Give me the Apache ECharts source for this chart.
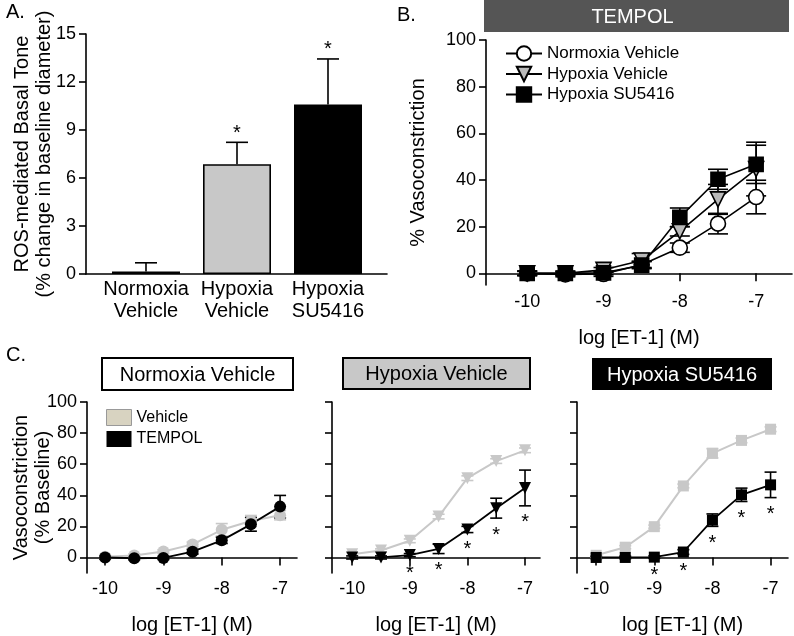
<!DOCTYPE html>
<html><head><meta charset="utf-8">
<script src="https://cdn.jsdelivr.net/npm/echarts@6/dist/echarts.min.js"></script>
<style>html,body{margin:0;padding:0;background:#fff}#c{width:794px;height:636px}</style>
</head><body><div id="c"></div>
<script>
// ---------- Panel A data ----------
const barCategories = ['Normoxia\nVehicle', 'Hypoxia\nVehicle', 'Hypoxia\nSU5416'];
const barValues = [0.15, 6.86, 10.6];
const barErrors = [0.55, 1.37, 2.84];
const barStars = [false, true, true];
const barColors = ['#ffffff', '#c8c8c8', '#000000'];
const barTicks = [0, 3, 6, 9, 12, 15];

// ---------- Panels B / C data ----------
const logET = [-10, -9.5, -9, -8.5, -8, -7.5, -7];
const logTicks = [-10, -9, -8, -7];
const pctTicks = [0, 20, 40, 60, 80, 100];

const normoxiaTempol = [0, -0.5, -0.3, 3.7, 11, 21.3, 32.7];
const normoxiaTempolErr = [1, 1, 1, 1.5, 2, 4.4, 7.2];
const normoxiaVehicle = [0.5, 1.3, 3.8, 8.4, 17.8, 23.5, 27.2];
const normoxiaVehicleErr = [1, 1, 1.2, 1.5, 4, 3.5, 3];

const hypoxiaTempol = [0, 0, 1.5, 5.5, 18, 31.7, 44.7];
const hypoxiaTempolErr = [1, 1, 1, 3, 2, 6.4, 11.5];
const hypoxiaVehicle = [2, 4.5, 10.7, 26.3, 51, 62, 68.9];
const hypoxiaVehicleErr = [1, 1, 1.2, 1.5, 1.5, 1.5, 1.5];
const hypoxiaStars = [0, 0, 1, 1, 1, 1, 1];

const suTempol = [0, 0, 0.2, 3.5, 24, 40.3, 46.7];
const suTempolErr = [0.8, 0.8, 0.8, 1.5, 4, 4.3, 8.2];
const suVehicle = [1.4, 6.6, 19.8, 46, 67, 75.3, 82.5];
const suVehicleErr = [1, 1, 1, 1.2, 3, 1.5, 1.5];
const suStars = [0, 0, 1, 1, 1, 1, 1];

const FONT = 'Liberation Sans, Arial, sans-serif';
const GREY = '#c8c8c8';

function errData(m, e) { return logET.map((x, i) => [x, m[i] - e[i], m[i] + e[i]]); }
function pts(m) { return logET.map((x, i) => [x, m[i]]); }

function errRender(capHalf, color, lw, upperOnly) {
  return function (params, api) {
    const x = api.value(0), lo = api.value(1), hi = api.value(2);
    const pT = api.coord([x, hi]), pB = api.coord([x, lo]);
    const st = { stroke: color, lineWidth: lw };
    const ch = [
      { type: 'line', shape: { x1: pT[0], y1: pT[1], x2: pB[0], y2: pB[1] }, style: st },
      { type: 'line', shape: { x1: pT[0] - capHalf, y1: pT[1], x2: pT[0] + capHalf, y2: pT[1] }, style: st }
    ];
    if (!upperOnly) ch.push({ type: 'line', shape: { x1: pB[0] - capHalf, y1: pB[1], x2: pB[0] + capHalf, y2: pB[1] }, style: st });
    return { type: 'group', children: ch };
  };
}
function starRender(offset) {
  return function (params, api) {
    const p = api.coord([api.value(0), api.value(1)]);
    return { type: 'text', x: p[0], y: p[1] + offset,
      style: { text: '*', fill: '#000', font: '20px ' + FONT, align: 'center', verticalAlign: 'middle' } };
  };
}

const grids = [
  { left: 86, width: 301, top: 34, height: 240 },          // 0 A frame
  { left: 100.5, width: 273, top: 34, height: 240 },       // 1 A bars
  { left: 486, width: 306, top: 40, height: 245 },         // 2 B
  { left: 87, width: 210, top: 402, height: 178.2 },       // 3 C left
  { left: 332, width: 208, top: 402, height: 178.2 },      // 4 C mid
  { left: 577, width: 211, top: 402, height: 178.2 }       // 5 C right
];

const axLine = { show: true, onZero: true, lineStyle: { color: '#000', width: 1.6 } };
const tickOut = (vals, len) => ({ show: true, length: len, inside: false, lineStyle: { color: '#000', width: 1.6 }, customValues: vals });
const lblStyle = { color: '#000', fontFamily: FONT, fontSize: 18 };

function logXAxis(gi, min, max, nameGap, margin) {
  return { gridIndex: gi, type: 'value', min: min, max: max,
    axisLine: axLine, axisTick: tickOut(logTicks, 8),
    axisLabel: Object.assign({ customValues: logTicks, margin: margin }, lblStyle),
    splitLine: { show: false },
    name: 'log [ET-1] (M)', nameLocation: 'middle', nameGap: nameGap,
    nameTextStyle: { color: '#000', fontFamily: FONT, fontSize: 20 } };
}
function pctYAxis(gi, min, showLabels, name, nameGap) {
  const a = { gridIndex: gi, type: 'value', min: min, max: 100,
    axisLine: { show: true, onZero: false, lineStyle: { color: '#000', width: 1.6 } },
    axisTick: tickOut(pctTicks, 7),
    axisLabel: Object.assign({ show: showLabels, customValues: pctTicks, margin: 10 }, lblStyle),
    splitLine: { show: false } };
  if (name) {
    a.name = name; a.nameLocation = 'middle'; a.nameGap = nameGap; a.nameRotate = 90; a.nameMoveOverlap = false;
    a.nameTextStyle = { color: '#000', fontFamily: FONT, fontSize: 20, lineHeight: 22 };
  }
  return a;
}

const xAxes = [
  { gridIndex: 0, type: 'value', min: 0, max: 1, axisLine: { show: true, lineStyle: { color: '#000', width: 1.6 } },
    axisTick: { show: false }, axisLabel: { show: false }, splitLine: { show: false } },
  { gridIndex: 1, type: 'category', data: barCategories, axisLine: { show: false }, axisTick: { show: false },
    axisLabel: { color: '#000', fontFamily: FONT, fontSize: 20, lineHeight: 22, margin: 4, interval: 0 } },
  logXAxis(2, -10.54, -6.53, 43, 8),
  logXAxis(3, -10.31, -6.71, 42, 7),
  logXAxis(4, -10.35, -6.74, 42, 7),
  logXAxis(5, -10.33, -6.70, 42, 7)
];
const yAxes = [
  { gridIndex: 0, type: 'value', min: 0, max: 15, interval: 3,
    axisLine: { show: true, lineStyle: { color: '#000', width: 1.6 } },
    axisTick: { show: true, length: 7, lineStyle: { color: '#000', width: 1.6 } },
    axisLabel: Object.assign({ margin: 10 }, lblStyle), splitLine: { show: false },
    name: 'ROS-mediated Basal Tone\n(% change in baseline diameter)', nameLocation: 'middle', nameGap: 31, nameRotate: 90,
    nameMoveOverlap: false,
    nameTextStyle: { color: '#000', fontFamily: FONT, fontSize: 20, lineHeight: 22 } },
  { gridIndex: 1, type: 'value', min: 0, max: 15, show: false },
  pctYAxis(2, -5, true, '% Vasoconstriction', 57),
  pctYAxis(3, -10, true, 'Vasoconstriction\n(% Baseline)', 33),
  pctYAxis(4, -10, false),
  pctYAxis(5, -10, false)
];

const series = [];
// Panel A
series.push({ type: 'bar', xAxisIndex: 1, yAxisIndex: 1, barWidth: 68,
  data: barValues.map((v, i) => ({ value: v, itemStyle: { color: barColors[i], borderColor: '#000', borderWidth: 1.6 } })) });
series.push({ type: 'custom', xAxisIndex: 1, yAxisIndex: 1, renderItem: errRender(11, '#000', 1.6, true),
  data: barValues.map((v, i) => [i, v, v + barErrors[i]]), z: 1 });
series.push({ type: 'custom', xAxisIndex: 1, yAxisIndex: 1, renderItem: starRender(-9),
  data: barValues.map((v, i) => [i, v + barErrors[i]]).filter((d, i) => barStars[i]) });

// Panel B
function lineSeries(name, xi, m, sym, size, fill, border, lineColor, lw, rot) {
  return { name: name, type: 'line', xAxisIndex: xi, yAxisIndex: xi, data: pts(m),
    symbol: sym, symbolSize: size, symbolRotate: rot || 0, z: 3,
    lineStyle: { color: lineColor, width: lw },
    itemStyle: { color: fill, borderColor: border, borderWidth: border ? 1.6 : 0 } };
}
function errSeries(xi, m, e, cap, color) {
  return { type: 'custom', xAxisIndex: xi, yAxisIndex: xi, renderItem: errRender(cap, color, 1.6, false), data: errData(m, e), z: 2 };
}
series.push(errSeries(2, normoxiaTempol, normoxiaTempolErr, 10, '#000'));
series.push(errSeries(2, hypoxiaTempol, hypoxiaTempolErr, 10, '#000'));
series.push(errSeries(2, suTempol, suTempolErr, 10, '#000'));
series.push(lineSeries('Normoxia Vehicle', 2, normoxiaTempol, 'circle', 15, '#ffffff', '#000', '#000', 1.6));
series.push(lineSeries('Hypoxia Vehicle', 2, hypoxiaTempol, 'triangle', 15, '#bababa', '#000', '#000', 1.6, 180));
series.push(lineSeries('Hypoxia SU5416', 2, suTempol, 'rect', 14, '#000', '#000', '#000', 1.6));

// Panel C
function cPanel(xi, veh, vehErr, tem, temErr, sym, size, rot, stars) {
  series.push(errSeries(xi, veh, vehErr, 6, GREY));
  series.push(lineSeries('Vehicle', xi, veh, sym, size, GREY, null, GREY, 2, rot));
  series.push(errSeries(xi, tem, temErr, 6, '#000'));
  series.push(lineSeries('TEMPOL', xi, tem, sym, size, '#000', null, '#000', 1.8, rot));
  if (stars) {
    series.push({ type: 'custom', xAxisIndex: xi, yAxisIndex: xi, renderItem: starRender(17),
      data: logET.map((x, i) => [x, tem[i] - temErr[i]]).filter((d, i) => stars[i]) });
  }
}
cPanel(3, normoxiaVehicle, normoxiaVehicleErr, normoxiaTempol, normoxiaTempolErr, 'circle', 12, 0, null);
cPanel(4, hypoxiaVehicle, hypoxiaVehicleErr, hypoxiaTempol, hypoxiaTempolErr, 'triangle', 12, 180, hypoxiaStars);
cPanel(5, suVehicle, suVehicleErr, suTempol, suTempolErr, 'rect', 11, 0, suStars);

function box(x, y, w, h, fill, stroke, text, tcolor, tdx) {
  return [
    { type: 'rect', shape: { x: x, y: y, width: w, height: h },
      style: { fill: fill, stroke: stroke || null, lineWidth: stroke ? 2 : 0 } },
    { type: 'text', x: x + w / 2 + (tdx || 0), y: y + h / 2 + 1,
      style: { text: text, fill: tcolor, font: '20px ' + FONT, align: 'center', verticalAlign: 'middle' } }
  ];
}
const graphics = [
  { type: 'text', x: 6, y: 2, style: { text: 'A.', fill: '#000', font: '20px ' + FONT } },
  { type: 'text', x: 397, y: 5, style: { text: 'B.', fill: '#000', font: '20px ' + FONT } },
  { type: 'text', x: 6, y: 345, style: { text: 'C.', fill: '#000', font: '20px ' + FONT } }
].concat(
  box(484, 0, 305, 32, '#555555', null, 'TEMPOL', '#ffffff', -4),
  box(102, 358, 191, 32, '#ffffff', '#000', 'Normoxia Vehicle', '#000'),
  box(343, 358, 187, 31, GREY, '#000', 'Hypoxia Vehicle', '#000'),
  box(592, 358, 180, 32, '#000000', null, 'Hypoxia SU5416', '#ffffff')
);

const chart = echarts.init(document.getElementById('c'), null, { renderer: 'canvas' });
chart.setOption({
  backgroundColor: '#ffffff',
  animation: false,
  grid: grids,
  xAxis: xAxes,
  yAxis: yAxes,
  series: series,
  graphic: graphics,
  legend: [
    { data: ['Normoxia Vehicle', 'Hypoxia Vehicle', 'Hypoxia SU5416'], orient: 'vertical', left: 500, top: 40,
      itemWidth: 36, itemHeight: 18, itemGap: 3.5, selectedMode: false,
      textStyle: { color: '#000', fontFamily: FONT, fontSize: 17 } },
    { data: [{ name: 'Vehicle', itemStyle: { color: '#d8d3c1', borderColor: '#999', borderWidth: 1 } },
             { name: 'TEMPOL', itemStyle: { color: '#000' } }],
      icon: 'rect', orient: 'vertical', left: 101, top: 404, itemWidth: 25, itemHeight: 16, itemGap: 5, selectedMode: false,
      textStyle: { color: '#000', fontFamily: FONT, fontSize: 16 } }
  ]
});
</script></body></html>
